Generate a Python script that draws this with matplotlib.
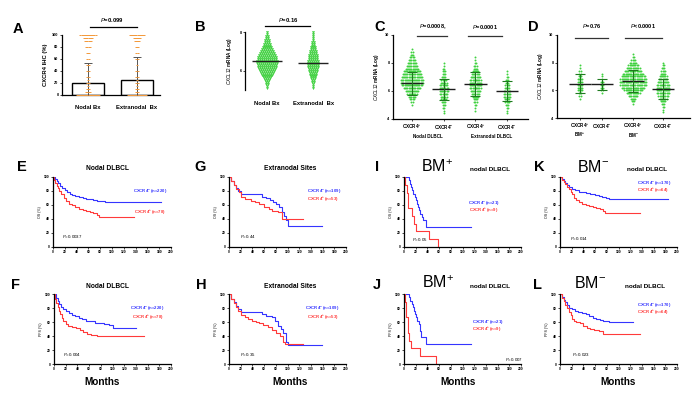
import numpy as np
import matplotlib
matplotlib.use('Agg')
import matplotlib.pyplot as plt

plt.rcParams['font.family'] = ['Liberation Sans', 'DejaVu Sans']
plt.rcParams['mathtext.fontset'] = 'custom'
plt.rcParams['mathtext.rm'] = 'Liberation Sans'
plt.rcParams['mathtext.it'] = 'Liberation Sans:italic'
plt.rcParams['mathtext.bf'] = 'Liberation Sans:bold'
plt.rcParams['mathtext.default'] = 'regular'

# ---------------- data ----------------
# A: CXCR4 IHC (%) by biopsy site
a_groups = ['Nodal Bx', 'Extranodal  Bx']
a_means = [20, 25]
a_sds = [33, 38]
a_levels = [0, 5, 10, 15, 20, 25, 30, 40, 50, 60, 70, 80, 90, 95, 100]
a_nodal_counts = [22, 4, 3, 1, 3, 1, 2, 2, 3, 2, 3, 4, 6, 8, 15]
a_extra_counts = [18, 3, 3, 1, 2, 1, 2, 2, 1, 2, 2, 3, 5, 7, 14]

# B: CXCL12 mRNA by biopsy site
b_groups = ['Nodal Bx', 'Extranodal  Bx']
b_means = [6.5, 6.41]
b_levels = [5.1, 5.2, 5.3, 5.4, 5.5, 5.6, 5.7, 5.8, 5.9, 6.0,
            6.1, 6.2, 6.3, 6.4, 6.5, 6.6, 6.7, 6.8, 6.9, 7.0,
            7.1, 7.2, 7.3, 7.4, 7.5, 7.6, 7.7, 7.8, 7.9, 8.0]
b_nodal_counts = [1, 1, 2, 2, 3, 4, 5, 6, 7, 8, 9, 10, 10, 11, 11,
                  10, 10, 9, 8, 7, 6, 5, 4, 4, 3, 3, 2, 2, 1, 1]
b_extra_counts = [1, 1, 1, 2, 2, 3, 3, 4, 4, 5, 5, 6, 6, 6, 6,
                  5, 5, 5, 4, 4, 3, 3, 2, 2, 2, 1, 1, 1, 1, 1]

# C / D: CXCL12 mRNA by CXCR4 status
cd_levels = [4.4, 4.6, 4.8, 5.0, 5.2, 5.4, 5.6, 5.8, 6.0, 6.2, 6.4, 6.6,
             6.8, 7.0, 7.2, 7.4, 7.6, 7.8, 8.0, 8.2, 8.4, 8.6, 8.8, 9.0]
c_counts = [
    [0, 0, 0, 1, 2, 4, 6, 9, 12, 15, 18, 20, 20, 19, 17, 15, 12, 10, 8, 6, 4, 3, 2, 1],
    [1, 1, 2, 3, 4, 5, 6, 7, 8, 8, 7, 6, 5, 4, 3, 3, 2, 1, 1, 0, 0, 0, 0, 0],
    [0, 1, 1, 2, 3, 4, 6, 7, 9, 10, 11, 11, 10, 9, 7, 6, 4, 3, 2, 1, 1, 0, 0, 0],
    [1, 1, 2, 3, 4, 5, 6, 6, 6, 5, 4, 3, 3, 2, 1, 1, 0, 0, 0, 0, 0, 0, 0, 0],
]
c_means = [6.55, 6.14, 6.5, 5.98]
c_sds = [0.8, 0.75, 0.85, 0.7]
c_labels = ['CXCR4$^{+}$', 'CXCR4$^{-}$', 'CXCR4$^{+}$', 'CXCR4$^{-}$']
c_sub = ['Nodal DLBCL', 'Extranodal DLBCL']

d_counts = [
    [0, 0, 0, 0, 0, 1, 2, 3, 4, 5, 5, 4, 4, 3, 2, 2, 1, 1, 0, 0, 0, 0, 0, 0],
    [0, 0, 0, 0, 0, 0, 0, 1, 2, 2, 2, 2, 1, 1, 1, 0, 0, 0, 0, 0, 0, 0, 0, 0],
    [0, 0, 0, 1, 3, 5, 8, 12, 16, 20, 23, 24, 23, 21, 18, 15, 12, 9, 6, 4, 2, 1, 0, 0],
    [1, 1, 2, 3, 5, 7, 9, 11, 12, 12, 11, 10, 8, 7, 5, 4, 3, 2, 1, 0, 0, 0, 0, 0],
]
d_means = [6.48, 6.43, 6.66, 6.12]
d_sds = [0.67, 0.42, 0.8, 0.73]
d_labels = ['CXCR4$^{+}$', 'CXCR4$^{-}$', 'CXCR4$^{+}$', 'CXCR4$^{-}$']
d_sub = ['BM$^{+}$', 'BM$^{-}$']

# Kaplan-Meier curves: step times (months) and survival (%) after each step
km = {
    'E': {'neg_t': [0, 3, 6, 9, 12, 16, 20, 24, 28, 33, 38, 44, 50, 56, 62, 68, 74, 80, 88, 183],
          'neg_s': [100, 97, 94, 91, 87, 84, 81, 78, 76, 74, 73, 72, 70, 69, 68, 67, 66, 65, 64, 64],
          'pos_t': [0, 2, 4, 6, 8, 11, 14, 18, 22, 27, 32, 38, 44, 50, 56, 62, 68, 74, 78, 137],
          'pos_s': [100, 95, 91, 87, 84, 80, 76, 70, 65, 62, 60, 57, 55, 53, 51, 50, 48, 46, 43, 43]},
    'F': {'neg_t': [0, 3, 6, 9, 12, 16, 20, 25, 30, 36, 42, 48, 55, 62, 70, 78, 86, 94, 100, 141],
          'neg_s': [100, 95, 90, 86, 82, 79, 76, 73, 70, 68, 66, 64, 62, 61, 59, 58, 57, 56, 51, 51],
          'pos_t': [0, 2, 4, 6, 8, 10, 13, 16, 20, 24, 30, 38, 44, 50, 56, 64, 73, 153],
          'pos_s': [100, 93, 87, 81, 76, 71, 66, 61, 57, 54, 53, 51, 48, 46, 43, 42, 39.5, 39.5]},
    'G': {'neg_t': [0, 4, 8, 12, 16, 21, 44, 56, 64, 70, 75, 80, 85, 90, 94, 97, 100, 159],
          'neg_s': [100, 94, 89, 84, 80, 76, 75, 72, 70, 67, 64, 61, 57, 50, 45, 38, 29.5, 29.5],
          'pos_t': [0, 4, 8, 12, 17, 21, 28, 38, 45, 52, 60, 68, 73, 84, 90, 127],
          'pos_s': [100, 94, 88, 83, 78, 72, 69, 66, 64, 61, 57, 55, 51, 50, 40, 40]},
    'H': {'neg_t': [0, 4, 8, 12, 16, 21, 44, 56, 64, 73, 78, 84, 89, 93, 97, 101, 159],
          'neg_s': [100, 93, 88, 83, 79, 75, 74, 71, 69, 67, 61, 54, 50, 44, 31, 27.5, 27.5],
          'pos_t': [0, 4, 8, 12, 16, 21, 28, 33, 40, 46, 52, 58, 66, 73, 80, 87, 93, 96, 127],
          'pos_s': [100, 93, 87, 81, 76, 70, 67, 65, 62, 60, 58, 56, 53, 49, 45, 39.5, 31, 29, 29]},
    'I': {'neg_t': [0, 8, 10, 12, 14, 16, 18, 20, 22, 24, 26, 28, 30, 33, 37, 115],
          'neg_s': [100, 95.2, 90.5, 85.7, 81, 76.2, 71.4, 66.7, 61.9, 57.1, 52.4, 47.6, 42.9, 38.1, 28.6, 28.6],
          'pos_t': [0, 2, 5, 7, 13, 17, 20, 43, 58],
          'pos_s': [100, 88.9, 77.8, 55.6, 44.4, 33.3, 22.2, 11.1, 0]},
    'J': {'neg_t': [0, 9, 11, 13, 15, 17, 19, 21, 23, 25, 27, 29, 37, 115],
          'neg_s': [100, 95.2, 90.5, 85.7, 81, 76.2, 71.4, 66.7, 61.9, 57.1, 47.6, 38.1, 28.6, 28.6],
          'pos_t': [0, 1, 3, 4, 6, 9, 12, 27, 54],
          'pos_s': [100, 88.9, 77.8, 66.7, 44.4, 33.3, 22.2, 11.1, 0]},
    'K': {'neg_t': [0, 3, 6, 9, 12, 15, 20, 26, 32, 38, 44, 52, 60, 66, 72, 78, 84, 185],
          'neg_s': [100, 97, 94, 91, 88, 85, 83, 81, 79, 78, 77, 75, 74, 72.5, 71, 70, 69, 68.5],
          'pos_t': [0, 3, 6, 9, 12, 15, 18, 21, 24, 28, 32, 38, 44, 50, 56, 62, 68, 74, 77, 137],
          'pos_s': [100, 96, 93, 90, 86, 83, 79, 75, 70, 67, 64, 62, 60, 58, 57, 56, 55, 52, 49, 49]},
    'L': {'neg_t': [0, 3, 6, 9, 12, 16, 20, 25, 30, 37, 44, 50, 56, 62, 68, 74, 80, 84, 124],
          'neg_s': [100, 96, 92, 88, 84, 80, 78, 76, 75, 73, 71, 68, 66, 65, 63, 62, 61, 59.5, 59.5],
          'pos_t': [0, 3, 6, 9, 12, 15, 18, 21, 24, 28, 34, 40, 46, 51, 58, 66, 74, 137],
          'pos_s': [100, 95, 90, 85, 80, 75, 70, 65, 61, 60, 58.6, 54, 52, 50.5, 48, 46.7, 43, 43]},
}
km_n = {'E': (220, 78), 'F': (220, 78), 'G': (109, 53), 'H': (109, 53),
        'I': (21, 9), 'J': (21, 9), 'K': (170, 64), 'L': (170, 64)}
km_p = {'E': '0.0037', 'F': '0.004', 'G': '0.44', 'H': '0.35',
        'I': '0.05', 'J': '0.007', 'K': '0.014', 'L': '0.023'}

# ---------------- layout ----------------
W, H = 700, 395
fig = plt.figure(figsize=(7, 3.95), dpi=100)

BLUE = '#3535ff'
RED = '#ff3a3a'
GREEN = '#3fd13f'
ORANGE = '#f39a3c'


def add_ax(l, t, r, b):
    return fig.add_axes([l / W, 1 - b / H, (r - l) / W, (b - t) / H])


def ftext(x, y, s, **kw):
    kw.setdefault('ha', 'center')
    kw.setdefault('va', 'center')
    fig.text(x / W, 1 - y / H, s, **kw)


def style(ax, lw=0.9, size=2.8):
    for side in ('top', 'right'):
        ax.spines[side].set_visible(False)
    for side in ('left', 'bottom'):
        ax.spines[side].set_linewidth(lw)
    ax.tick_params(length=1.5, width=0.5, labelsize=size, pad=1)
    for lab in ax.get_xticklabels() + ax.get_yticklabels():
        lab.set_fontweight('bold')


def swarm(center, levels, counts, dx):
    xs, ys = [], []
    for v, n in zip(levels, counts):
        offs = (np.arange(n) - (n - 1) / 2) * dx
        xs.extend(center + offs)
        ys.extend([v] * n)
    return np.array(xs), np.array(ys)


# ---- A ----
axA = add_ax(62, 35, 160, 95)
xa = np.arange(len(a_groups))
axA.bar(xa, a_means, width=0.67, facecolor='white', edgecolor='black', lw=1.0, zorder=1)
for i, counts in enumerate([a_nodal_counts, a_extra_counts]):
    xs, ys = swarm(xa[i], a_levels, counts, 0.022)
    axA.plot(xs, ys, ls='none', marker='_', ms=1.8, mew=0.7, color=ORANGE, zorder=3, clip_on=False)
tops = np.array(a_means) + np.array(a_sds)
axA.vlines(xa, 0, tops, color='#555555', lw=0.7, zorder=2)
axA.hlines(tops, xa - 0.08, xa + 0.08, color='#555555', lw=0.7, zorder=2)
axA.set_xlim(-0.53, 1.47)
axA.set_ylim(0, 100)
axA.set_yticks(range(0, 101, 20))
axA.set_xticks(xa)
axA.set_xticklabels(a_groups)
style(axA)
axA.tick_params(axis='x', length=0, labelsize=4.2, pad=7)
axA.set_ylabel('CXCR4 IHC (%)', fontsize=4.2, fontweight='bold', labelpad=3)
axA.plot([0.04, 1.0], [113, 113], color='black', lw=0.9, clip_on=False)
axA.text(0.49, 125, '$\\it{P}$=0.099', fontsize=4.2, fontweight='bold', ha='center', va='center')

# ---- B ----
axB = add_ax(245, 32, 338, 90)
xb = np.arange(len(b_groups))
for i, counts in enumerate([b_nodal_counts, b_extra_counts]):
    xs, ys = swarm(xb[i], b_levels, counts, 0.042)
    axB.plot(xs, ys, ls='none', marker='v', ms=1.6, mew=0.3, color=GREEN, zorder=2, clip_on=False)
axB.hlines(b_means, xb - 0.33, xb + 0.33, color='#222222', lw=1.0, zorder=3)
axB.set_xlim(-0.48, 1.54)
axB.set_ylim(5, 8)
axB.set_yticks([6, 8])
axB.set_xticks(xb)
axB.set_xticklabels(b_groups)
style(axB)
axB.spines['bottom'].set_visible(False)
axB.tick_params(axis='x', length=0, labelsize=4.2, pad=8)
axB.set_ylabel('$\\it{CXCL12}$ mRNA (Log)', fontsize=3.3, fontweight='bold', labelpad=4)
axB.plot([-0.04, 0.93], [8.31, 8.31], color='black', lw=0.9, clip_on=False)
axB.text(0.46, 8.62, '$\\it{P}$=0.16', fontsize=4.2, fontweight='bold', ha='center', va='center')


# ---- C / D ----
def cd_panel(box, xpos, xlim, counts_list, means, sds, labels, subs, sub_x, plines, ptexts, dx):
    ax = add_ax(*box)
    for x, counts in zip(xpos, counts_list):
        xs, ys = swarm(x, cd_levels, counts, dx)
        ax.plot(xs, ys, ls='none', marker='o', ms=1.4, mew=0, color=GREEN, zorder=2)
    xpos = np.array(xpos)
    m = np.array(means)
    s = np.array(sds)
    ax.hlines(m, xpos - 0.36, xpos + 0.36, color='#1c1c1c', lw=1.0, zorder=3)
    ax.vlines(xpos, m - s, m + s, color='#1f7a1f', lw=0.8, zorder=3)
    ax.hlines(m + s, xpos - 0.16, xpos + 0.16, color='#1f7a1f', lw=0.8, zorder=3)
    ax.hlines(m - s, xpos - 0.16, xpos + 0.16, color='#1f7a1f', lw=0.8, zorder=3)
    ax.set_xlim(*xlim)
    ax.set_ylim(4, 10)
    ax.set_yticks([4, 6, 8, 10])
    ax.set_xticks(xpos)
    ax.set_xticklabels(labels)
    style(ax)
    ax.tick_params(axis='x', length=1.5, labelsize=3.3, pad=1.5)
    for lab in ax.get_xticklabels():
        lab.set_fontweight('bold')
    ax.set_ylabel('$\\it{CXCL12}$ mRNA (Log)', fontsize=3.3, fontweight='bold', labelpad=3)
    for sx, st in zip(sub_x, subs):
        ax.text(sx, 2.78, st, fontsize=3.3, fontweight='bold', ha='center', va='center')
    for (x0, x1, y), (tx, ty, tt) in zip(plines, ptexts):
        ax.plot([x0, x1], [y, y], color='#333333', lw=0.9, clip_on=False)
        ax.text(tx, ty, tt, fontsize=4.1, fontweight='bold', ha='center', va='center')
    return ax


cd_panel((393, 35, 528, 119), [0, 1, 2, 3], (-0.6, 3.66), c_counts, c_means, c_sds,
         c_labels, c_sub, [0.5, 2.5],
         [(0.16, 1.1, 9.95), (1.77, 2.84, 9.95)],
         [(0.66, 10.57, '$\\it{P}$=0.0008,'), (2.3, 10.57, '$\\it{P}$=0.0001')], 0.036)
cd_panel((557, 35, 690, 118), [0, 0.72, 1.74, 2.72], (-0.75, 3.6), d_counts, d_means, d_sds,
         d_labels, d_sub, [0.0, 1.74],
         [(-0.16, 0.92, 9.8), (1.48, 2.69, 9.8)],
         [(0.39, 10.66, '$\\it{P}$=0.76'), (2.07, 10.66, '$\\it{P}$<0.0001')], 0.038)

# ---- Kaplan-Meier panels ----
km_boxes = {'E': (53, 177, 171, 247), 'G': (229, 177, 346, 247),
            'I': (404, 177, 521, 247), 'K': (560, 177, 677, 247),
            'F': (54, 294, 171, 364), 'H': (229, 294, 346, 364),
            'J': (404, 294, 521, 364), 'L': (560, 294, 677, 364)}
km_leg = {'E': (135, 80, 137, 48.6), 'F': (130, 80.4, 133, 66),
          'G': (133, 80, 133, 67), 'H': (130, 80.4, 133, 66),
          'I': (109, 62.4, 111, 51.4), 'J': (116, 59.5, 116, 49),
          'K': (131, 91, 131, 80), 'L': (131, 84, 131, 73)}
km_ppos = {'E': (15, 15.7), 'F': (16, 13.9), 'G': (19, 15.7), 'H': (19, 13.9),
           'I': (13, 11.4), 'J': (172, 7), 'K': (17, 12.4), 'L': (20, 13)}

for key, box in km_boxes.items():
    ax = add_ax(*box)
    d = km[key]
    ax.step(d['neg_t'], d['neg_s'], where='post', color=BLUE, lw=0.8)
    ax.step(d['pos_t'], d['pos_s'], where='post', color=RED, lw=0.8)
    ax.set_xlim(0, 200)
    ax.set_ylim(0, 100)
    ax.set_xticks(range(0, 201, 20))
    ax.set_yticks(range(0, 101, 20))
    style(ax, lw=0.9, size=2.4)
    ax.set_ylabel('OS (%)' if key in 'EGIK' else 'PFS (%)', fontsize=2.6, labelpad=1.5)
    nneg, npos = km_n[key]
    bx, by, rx, ry = km_leg[key]
    ax.text(bx, by, 'CXCR4$^{-}$ (n=%d)' % nneg, color=BLUE, fontsize=3.1,
            fontweight='bold', ha='left', va='center', clip_on=False)
    ax.text(rx, ry, 'CXCR4$^{+}$ (n=%d)' % npos, color=RED, fontsize=3.1,
            fontweight='bold', ha='left', va='center', clip_on=False)
    px, py = km_ppos[key]
    ax.text(px, py, '$\\it{P}$=' + km_p[key], fontsize=3.2, ha='left', va='center')

# titles above KM panels
ftext(107, 168, 'Nodal DLBCL', fontsize=4.8, fontweight='bold')
ftext(290, 168, 'Extranodal Sites', fontsize=4.8, fontweight='bold')
ftext(107, 287, 'Nodal DLBCL', fontsize=4.8, fontweight='bold')
ftext(290, 287, 'Extranodal Sites', fontsize=4.8, fontweight='bold')
ftext(437, 167, 'BM$^{+}$', fontsize=11.5)
ftext(593, 167, 'BM$^{-}$', fontsize=11.5)
ftext(438, 283, 'BM$^{+}$', fontsize=11.5)
ftext(590, 283, 'BM$^{-}$', fontsize=11.5)
ftext(490, 169, 'nodal DLBCL', fontsize=4.6, fontweight='bold')
ftext(647, 169, 'nodal DLBCL', fontsize=4.6, fontweight='bold')
ftext(490, 287, 'nodal DLBCL', fontsize=4.6, fontweight='bold')
ftext(645, 287, 'nodal DLBCL', fontsize=4.6, fontweight='bold')

for mx in (102, 290, 458, 618):
    ftext(mx, 382, 'Months', fontsize=7.2, fontweight='bold')

# panel letters
letters = {'A': (18, 29), 'B': (200, 27), 'C': (380, 27), 'D': (533, 27),
           'E': (22, 167), 'G': (200, 167), 'I': (377, 167), 'K': (539, 167),
           'F': (15, 285), 'H': (201, 285), 'J': (377, 285), 'L': (537, 285)}
for s, (x, y) in letters.items():
    ftext(x, y, s, fontsize=10.5, fontweight='bold')

fig.savefig('out.png', dpi=100)
